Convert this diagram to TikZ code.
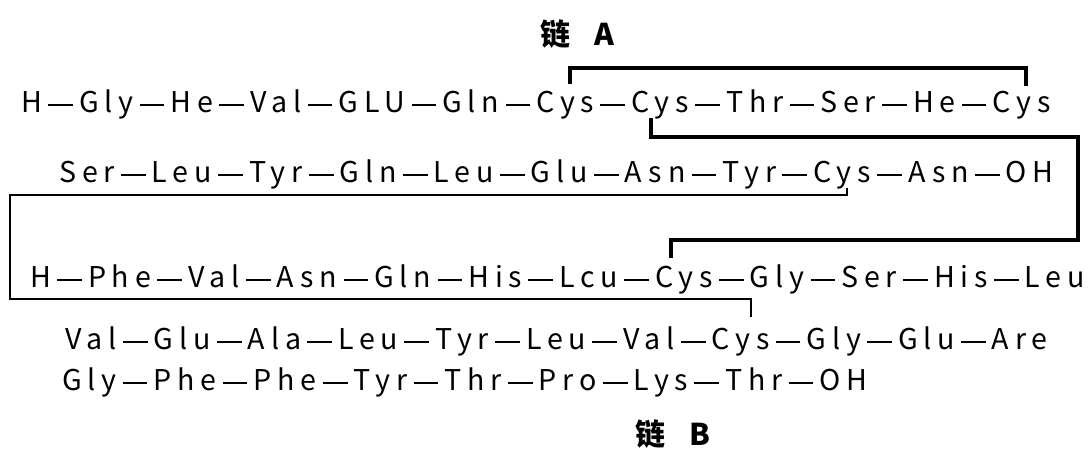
\documentclass[tikz,border=0pt]{standalone}
\usepackage{fontspec}
\setmainfont{Noto Sans CJK SC}
\newfontfamily\pepfont[LetterSpace=20.5]{Noto Sans CJK SC}
\usetikzlibrary{positioning}

\begin{document}
\begin{tikzpicture}[x=1pt,y=1pt]
  \tikzset{residue/.style = {inner sep=0pt, font=\pepfont\fontsize{28.6}{30}\selectfont}}
  \tikzset{chainlabel/.style = {inner sep=0pt, anchor=base west, font=\bfseries\fontsize{30}{31}\selectfont}}
  \tikzset{peptide/.style = {line width=2pt, shorten <=6pt, shorten >=6pt}}
  \tikzset{ssbond/.style = {line width=4pt}}
  \tikzset{thinbond/.style = {line width=2pt}}

  \useasboundingbox (0,0) rectangle (1090,-448);

	\node[chainlabel] (chainA) at (540,-45) {链\hspace{0.8em}A};
	\node[chainlabel] (chainB) at (635,-445) {链\hspace{0.8em}B};

    % rows of residues, joined by peptide bonds
    \foreach \r/\x/\y/\seq in {1/21/112/{H,Gly,He,Val,GLU,Gln,Cys,Cys,Thr,Ser,He,Cys},
                               2/59/182/{Ser,Leu,Tyr,Gln,Leu,Glu,Asn,Tyr,Cys,Asn,OH},
                               3/30/287/{H,Phe,Val,Asn,Gln,His,Lcu,Cys,Gly,Ser,His,Leu},
                               4/65/349/{Val,Glu,Ala,Leu,Tyr,Leu,Val,Cys,Gly,Glu,Are},
                               5/62/390/{Gly,Phe,Phe,Tyr,Thr,Pro,Lys,Thr,OH}}
    {
      \foreach \res [count=\i] in \seq {
        \ifnum\i=1
          \node[residue, anchor=base west] (r\r n\i) at (\x,-\y) {\res};
        \else
          \pgfmathtruncatemacro\prev{\i-1}
          \node[residue, base right=36.6pt of r\r n\prev] (r\r n\i) {\res};
          \draw[peptide] ([yshift=7pt]r\r n\prev.base east) -- ([yshift=7pt]r\r n\i.base west);
        \fi
      }
    }

	\coordinate (bendA) at (1078,-137);
	\coordinate (bendB) at (10,-195);

    % disulfide bridges
	\draw[ssbond] ([xshift=34pt,yshift=6pt]r1n7.north west) -- ++(0,16) -| ([xshift=34pt,yshift=4pt]r1n12.north west);
	\draw[ssbond] ([xshift=20pt,yshift=1pt]r1n8.south west) |- (bendA) |- ([xshift=16pt,yshift=25pt]r3n8.north west) -- ([xshift=16pt,yshift=7pt]r3n8.north west);
	\draw[thinbond] ([xshift=34pt,yshift=1pt]r2n9.south west) |- (bendB) |- ([xshift=39pt,yshift=28pt]r4n8.north west) -- ([xshift=39pt,yshift=10pt]r4n8.north west);

\end{tikzpicture}
\end{document}
